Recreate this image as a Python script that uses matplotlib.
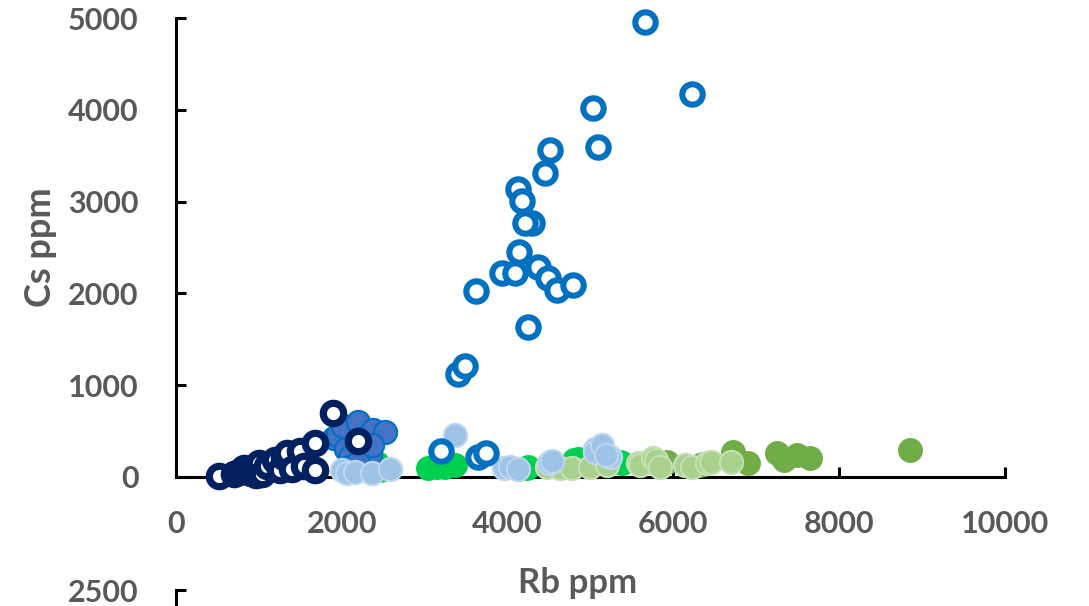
import numpy as np
import matplotlib.pyplot as plt

plt.rcParams['font.family'] = ['Lato', 'DejaVu Sans']

# open blue rings
ring_x = [5656, 5029, 6223, 5089, 4510, 4450, 4124, 4173, 4293, 4209, 4137, 4366, 4486,
          4595, 4788, 3932, 4088, 3618, 4245, 3402, 3485, 3196, 3642, 3739]
ring_y = [4955, 4018, 4171, 3594, 3561, 3311, 3136, 3006, 2766, 2766, 2450, 2287, 2167,
          2036, 2091, 2222, 2222, 2025, 1633, 1122, 1209, 283, 218, 261]

# navy rings
navy_x = [520, 700, 760, 820, 850, 900, 960, 1000, 1040, 1100, 1200, 1250, 1300, 1340,
          1400, 1500, 1550, 1680, 1680, 1890, 2200]
navy_y = [10, 30, 50, 100, 60, 40, 20, 150, 30, 120, 180, 80, 220, 260,
          90, 280, 120, 370, 80, 700, 390]

# filled blue
blue_x = [1900, 1950, 2010, 2050, 2100, 2150, 2200, 2250, 2300, 2340, 2380, 2520, 2050, 2200, 2360]
blue_y = [420, 460, 560, 300, 220, 130, 600, 250, 450, 240, 510, 490, 100, 150, 350]

# light blue
lblue_x = [2000, 2060, 2160, 2370, 2580, 3370, 3960, 4030, 4120, 4500, 4540, 5050, 5050, 5140, 5240, 5190]
lblue_y = [76, 40, 54, 44, 87, 460, 100, 110, 90, 150, 170, 300, 270, 350, 220, 240]

# bright green
green_x = [2420, 2460, 3040, 3150, 3240, 3360, 4230, 4250, 4800, 4850, 5350, 5380]
green_y = [150, 80, 98, 110, 110, 130, 100, 110, 180, 200, 160, 150]

# olive green
olive_x = [5860, 5920, 6320, 6360, 6720, 6900, 7250, 7340, 7490, 7650, 8850]
olive_y = [155, 165, 130, 140, 272, 152, 261, 185, 240, 207, 294]

# pale green
pale_x = [4470, 4630, 4780, 4990, 5200, 5570, 5600, 5750, 5790, 5840, 6140, 6220, 6400, 6450, 6700]
pale_y = [110, 100, 100, 110, 130, 150, 130, 205, 180, 110, 130, 110, 150, 160, 160]

xticks = [0, 2000, 4000, 6000, 8000, 10000]
yticks = [0, 1000, 2000, 3000, 4000, 5000]

grey = '#595959'

fig = plt.figure(figsize=(10.89, 6.06), dpi=100)

# top of the next chart, cut off by the frame
ax2 = fig.add_axes([176/1089, -0.7, 829/1089, 0.7 + 16/606])
ax2.patch.set_visible(False)
ax2.set_ylim(0, 2500)
ax2.set_yticks([2500])
ax2.set_xticks([])
for s in ['top', 'right', 'bottom']:
    ax2.spines[s].set_visible(False)
ax2.spines['left'].set_linewidth(2.2)
ax2.tick_params(axis='y', direction='in', length=7, width=2.2, pad=27,
                labelsize=22, labelcolor=grey)
for lab in ax2.get_yticklabels():
    lab.set_fontweight('bold')

ax = fig.add_axes([176/1089, 129/606, 829/1089, 459/606])
ax.patch.set_visible(False)

kw = dict(clip_on=False, zorder=3)
ax.scatter(olive_x, olive_y, s=280, c='#70AD47', edgecolors='#70AD47', linewidths=1.2, **kw)
ax.scatter(green_x, green_y, s=280, c='#00D050', edgecolors='#00D050', linewidths=1.2, **kw)
ax.scatter(pale_x, pale_y, s=280, c='#A9D18E', edgecolors='#C5E0B4', linewidths=1.5, **kw)
ax.scatter(blue_x, blue_y, s=280, c='#4472C4', edgecolors='#0070C0', linewidths=1.5, **kw)
ax.scatter(lblue_x, lblue_y, s=280, c='#9DC3E6', edgecolors='#BDD7EE', linewidths=1.5, **kw)
ax.scatter(ring_x, ring_y, s=215, facecolors='white', edgecolors='#0070C0', linewidths=4.4, **kw)
ax.scatter(navy_x, navy_y, s=215, facecolors='white', edgecolors='#002060', linewidths=5.2, **kw)

ax.set_xlim(0, 10000)
ax.set_ylim(0, 5000)
ax.set_xticks(xticks)
ax.set_yticks(yticks)
for s in ['top', 'right']:
    ax.spines[s].set_visible(False)
for s in ['left', 'bottom']:
    ax.spines[s].set_linewidth(2.2)
    ax.spines[s].set_zorder(2)
ax.tick_params(axis='both', direction='in', length=7, width=2.2, pad=27,
               labelsize=22, labelcolor=grey)
ax.tick_params(axis='x', pad=24)
for lab in ax.get_xticklabels() + ax.get_yticklabels():
    lab.set_fontweight('bold')

ax.set_xlabel('Rb ppm', fontsize=25, fontweight='bold', color=grey)
ax.set_ylabel('Cs ppm', fontsize=26, fontweight='bold', color=grey)
ax.xaxis.set_label_coords(0.484, -0.195)
ax.yaxis.set_label_coords(-0.1435, 0.5)

fig.savefig('out.png', dpi=100)
